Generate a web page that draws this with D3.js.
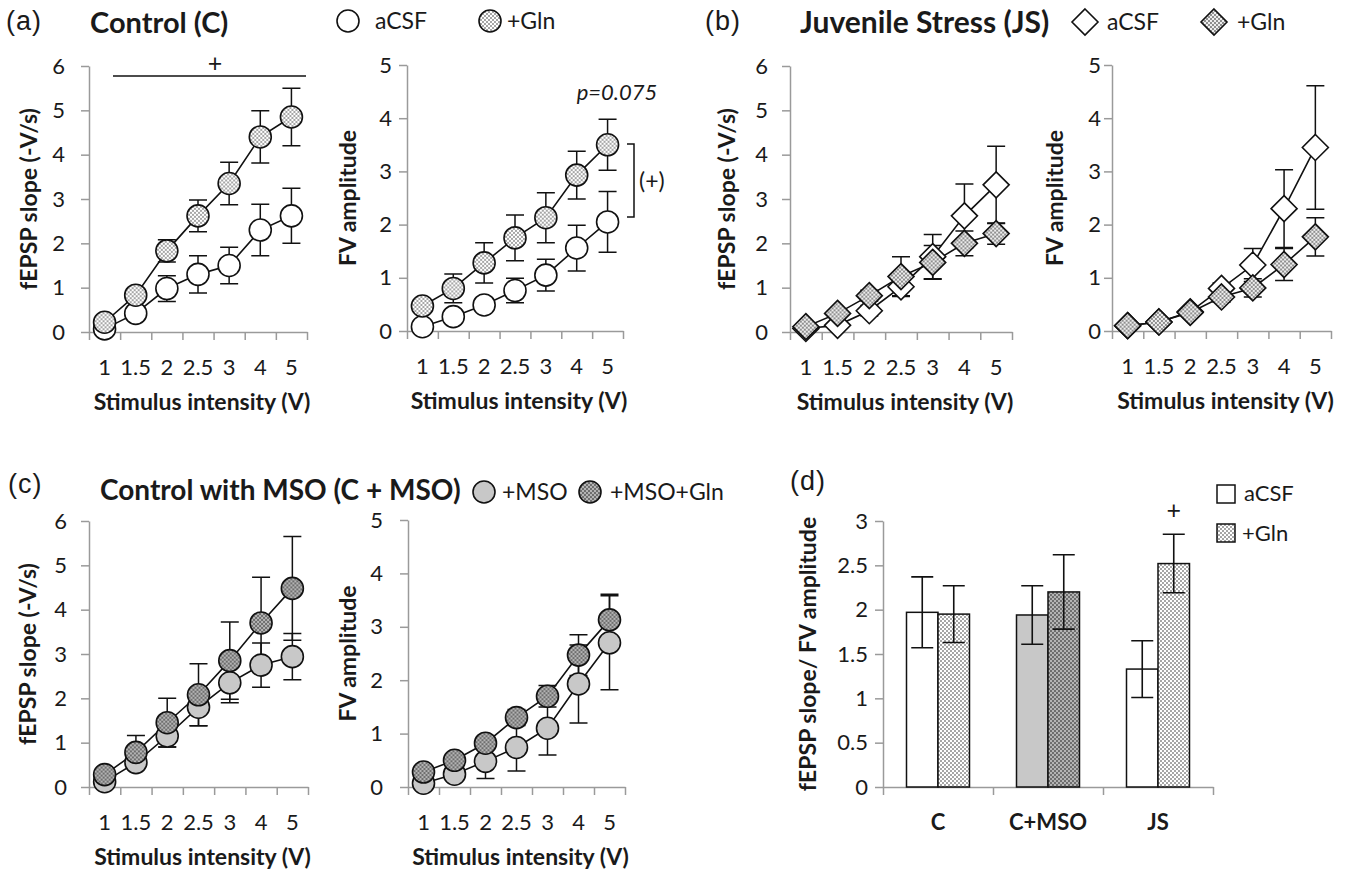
<!DOCTYPE html>
<html><head><meta charset="utf-8">
<script src="https://cdn.jsdelivr.net/npm/d3@7"></script>
<style>
body{margin:0;background:#fff}
svg text{font-family:Lato,"Open Sans",sans-serif;fill:#1a1a1a}
.axis path,.axis line{stroke:#9a9a9a;stroke-width:1.5}
.axis text{font-size:22px;font-family:Lato,sans-serif;fill:#1a1a1a}
.atitle{font-weight:bold;font-size:23px}
.ptitle{font-weight:bold}
.plabel{font-family:"Liberation Sans",Arial,sans-serif !important;font-size:27px;letter-spacing:1px}
.leg{font-size:23px}
</style></head>
<body><svg id="fig" width="1354" height="870"></svg>
<script>
// ---------- data ----------
const intensities = ["1","1.5","2","2.5","3","4","5"];
const yTicks6 = [0,1,2,3,4,5,6];
const yTicks5 = [0,1,2,3,4,5];
const yTicksRatio = [0,0.5,1,1.5,2,2.5,3];

// (a) Control
const cFepspAcsf = [0.07,0.42,0.98,1.30,1.50,2.30,2.62];
const cFepspAcsfErr = [0.05,0.12,0.29,0.42,0.41,0.58,0.62];
const cFepspGln = [0.22,0.83,1.83,2.62,3.35,4.40,4.85];
const cFepspGlnErr = [0.05,0.12,0.25,0.36,0.48,0.59,0.65];
const cFvAcsf = [0.08,0.27,0.49,0.76,1.05,1.56,2.05];
const cFvAcsfErr = [0.04,0.08,0.12,0.23,0.30,0.43,0.57];
const cFvGln = [0.47,0.80,1.28,1.75,2.13,2.93,3.50];
const cFvGlnErr = [0.10,0.27,0.38,0.43,0.47,0.45,0.48];

// (b) Juvenile stress
const jsFepspAcsf = [0.08,0.15,0.48,1.02,1.70,2.62,3.32];
const jsFepspAcsfErr = [0.03,0.08,0.12,0.20,0.50,0.72,0.87];
const jsFepspGln = [0.12,0.42,0.82,1.25,1.57,2.00,2.22];
const jsFepspGlnErr = [0.03,0.08,0.12,0.45,0.38,0.28,0.24];
const jsFvAcsf = [0.10,0.17,0.36,0.80,1.24,2.30,3.45];
const jsFvAcsfErr = [0.03,0.04,0.06,0.10,0.31,0.73,1.16];
const jsFvGln = [0.10,0.17,0.35,0.64,0.81,1.25,1.77];
const jsFvGlnErr = [0.03,0.04,0.06,0.10,0.17,0.30,0.36];

// (c) Control with MSO
const msoFepsp = [0.12,0.55,1.15,1.80,2.35,2.75,2.94];
const msoFepspErr = [0.05,0.15,0.25,0.42,0.45,0.50,0.52];
const msoGlnFepsp = [0.28,0.78,1.45,2.08,2.85,3.70,4.48];
const msoGlnFepspErr = [0.05,0.38,0.55,0.70,0.87,1.03,1.17];
const msoFv = [0.07,0.24,0.48,0.74,1.10,1.93,2.70];
const msoFvErr = [0.03,0.08,0.32,0.44,0.50,0.73,0.88];
const msoGlnFv = [0.28,0.50,0.82,1.30,1.70,2.47,3.13];
const msoGlnFvErr = [0.03,0.05,0.08,0.15,0.20,0.38,0.48];

// (d) ratio
const groups = ["C","C+MSO","JS"];
const ratioBase = [1.97,1.94,1.33];
const ratioBaseErr = [0.40,0.33,0.32];
const ratioGln = [1.95,2.20,2.52];
const ratioGlnErr = [0.32,0.42,0.33];

// ---------- drawing ----------
const svg = d3.select('#fig');
const defs = svg.append('defs');
function dotPattern(id, bg, dot){
  const p = defs.append('pattern').attr('id',id).attr('width',4).attr('height',4).attr('patternUnits','userSpaceOnUse');
  p.append('rect').attr('width',4).attr('height',4).attr('fill',bg);
  p.append('circle').attr('cx',1).attr('cy',1).attr('r',0.95).attr('fill',dot);
  p.append('circle').attr('cx',3).attr('cy',3).attr('r',0.95).attr('fill',dot);
}
dotPattern('dotsLight','#ffffff','#808080');
dotPattern('dotsMid','#eeeeee','#666666');
dotPattern('dotsDark','#b4b4b4','#505050');

const FILL = {white:'#ffffff', light:'url(#dotsLight)', mid:'url(#dotsMid)', dark:'url(#dotsDark)', gray:'#c8c8c8'};
const diamondPath = 'M0,-13L13,0L0,13L-13,0Z';

function drawMarker(sel, shape, fill){
  if(shape==='circle') sel.append('circle').attr('r',11).attr('fill',fill).attr('stroke','#111').attr('stroke-width',1.6);
  else sel.append('path').attr('d',diamondPath).attr('fill',fill).attr('stroke','#111').attr('stroke-width',1.6);
}

function linePanel(o){
  const g = svg.append('g');
  const x = d3.scaleBand().domain(intensities).range([o.x0,o.x1]);
  const xi = d3.scaleLinear().domain([0,intensities.length]).range([o.x0,o.x1]);
  const y = d3.scaleLinear().domain([0,o.ymax]).range([o.yb,o.yt]);
  const cx = k => x(k)+x.bandwidth()/2;

  g.append('g').attr('class','axis').attr('transform',`translate(0,${o.yb})`)
    .call(d3.axisBottom(xi).tickValues(d3.range(intensities.length+1)).tickSize(8).tickSizeOuter(0).tickFormat(''));
  g.append('g').attr('class','axis').attr('transform',`translate(0,${o.yb})`)
    .call(d3.axisBottom(x).tickSize(0).tickPadding(27)).call(s=>s.select('.domain').remove());
  g.append('g').attr('class','axis').attr('transform',`translate(${o.x0},0)`)
    .call(d3.axisLeft(y).tickValues(o.ticks).tickFormat(d3.format('d')).tickSize(8).tickSizeOuter(0).tickPadding(o.pad));

  g.append('text').attr('class','atitle').attr('text-anchor','middle')
    .attr('x',(o.x0+o.x1)/2+4).attr('y',o.yb+78).text('Stimulus intensity (V)');
  g.append('text').attr('class','atitle').attr('text-anchor','middle')
    .attr('transform',`translate(${o.x0-o.tOff},${(o.yb+o.yt)/2}) rotate(-90)`).attr('dy','0.35em').text(o.ylabel);

  const rows = o.series.map(s => s.vals.map((v,i)=>({k:intensities[i],v,e:s.errs[i]})));
  rows.forEach(r=>{
    g.append('g').selectAll('path').data(r).join('path')
      .attr('fill','none').attr('stroke','#111').attr('stroke-width',1.5)
      .attr('d',d=>{const c=cx(d.k),lo=y(d.v-d.e),hi=y(d.v+d.e);
        return `M${c},${lo}V${hi}M${c-9},${hi}H${c+9}M${c-9},${lo}H${c+9}`;});
  });
  rows.forEach(r=>{
    g.append('path').datum(r).attr('fill','none').attr('stroke','#111').attr('stroke-width',1.6)
      .attr('d',d3.line().x(d=>cx(d.k)).y(d=>y(d.v)));
  });
  rows.forEach((r,si)=>{
    const s=o.series[si];
    g.append('g').selectAll('g').data(r).join('g')
      .attr('transform',d=>`translate(${cx(d.k)},${y(d.v)})`)
      .each(function(){drawMarker(d3.select(this), s.shape, s.fill);});
  });
  return {g,x,y};
}

// (a)
linePanel({x0:89,x1:307,yb:332,yt:66,ymax:6,ticks:yTicks6,pad:16,tOff:60,ylabel:'fEPSP slope (-V/s)',
  series:[{vals:cFepspAcsf,errs:cFepspAcsfErr,shape:'circle',fill:FILL.white},
          {vals:cFepspGln,errs:cFepspGlnErr,shape:'circle',fill:FILL.light}]});
linePanel({x0:407,x1:623,yb:331,yt:65,ymax:5,ticks:yTicks5,pad:7,tOff:59,ylabel:'FV amplitude',
  series:[{vals:cFvAcsf,errs:cFvAcsfErr,shape:'circle',fill:FILL.white},
          {vals:cFvGln,errs:cFvGlnErr,shape:'circle',fill:FILL.light}]});
// (b)
linePanel({x0:790,x1:1012,yb:332,yt:66,ymax:6,ticks:yTicks6,pad:14,tOff:63,ylabel:'fEPSP slope (-V/s)',
  series:[{vals:jsFepspAcsf,errs:jsFepspAcsfErr,shape:'diamond',fill:FILL.white},
          {vals:jsFepspGln,errs:jsFepspGlnErr,shape:'diamond',fill:FILL.mid}]});
linePanel({x0:1112,x1:1331,yb:331,yt:65,ymax:5,ticks:yTicks5,pad:3,tOff:57,ylabel:'FV amplitude',
  series:[{vals:jsFvAcsf,errs:jsFvAcsfErr,shape:'diamond',fill:FILL.white},
          {vals:jsFvGln,errs:jsFvGlnErr,shape:'diamond',fill:FILL.mid}]});
// (c)
linePanel({x0:89,x1:308,yb:787,yt:521,ymax:6,ticks:yTicks6,pad:14,tOff:61,ylabel:'fEPSP slope (-V/s)',
  series:[{vals:msoFepsp,errs:msoFepspErr,shape:'circle',fill:FILL.gray},
          {vals:msoGlnFepsp,errs:msoGlnFepspErr,shape:'circle',fill:FILL.dark}]});
linePanel({x0:408,x1:625,yb:787,yt:520,ymax:5,ticks:yTicks5,pad:17,tOff:60,ylabel:'FV amplitude',
  series:[{vals:msoFv,errs:msoFvErr,shape:'circle',fill:FILL.gray},
          {vals:msoGlnFv,errs:msoGlnFvErr,shape:'circle',fill:FILL.dark}]});

// annotations (a)
svg.append('line').attr('x1',113).attr('x2',306).attr('y1',76).attr('y2',76).attr('stroke','#111').attr('stroke-width',1.5);
svg.append('text').attr('x',215).attr('y',72).attr('text-anchor','middle').style('font-size','25px').text('+');
svg.append('text').attr('x',617).attr('y',100).attr('text-anchor','middle').style('font-size','22px').style('font-style','italic').text('p=0.075');
svg.append('path').attr('d','M627,144H634V217H627').attr('fill','none').attr('stroke','#111').attr('stroke-width',1.5);
svg.append('text').attr('x',639).attr('y',189).style('font-size','23px').text('(+)');

// panel labels / titles / legends
function label(t,x,y){svg.append('text').attr('class','plabel').attr('x',x).attr('y',y).text(t);}
function title(t,x,y,fs){svg.append('text').attr('class','ptitle').attr('x',x).attr('y',y).style('font-size',fs+'px').text(t);}
function legItem(shape,fill,x,y,t,tx){
  const g=svg.append('g').attr('transform',`translate(${x},${y})`);
  drawMarker(g,shape,fill);
  svg.append('text').attr('class','leg').attr('x',tx).attr('y',y+8).text(t);
}
label('(a)',6,30); title('Control (C)',90,33,29);
legItem('circle',FILL.white,348,21,'aCSF',375);
legItem('circle',FILL.light,490,21,'+Gln',507);
label('(b)',705,30); title('Juvenile Stress (JS)',800,33,30);
legItem('diamond',FILL.white,1085,22,'aCSF',1107);
legItem('diamond',FILL.mid,1214,22,'+Gln',1237);
label('(c)',8,493); title('Control with MSO (C + MSO)',100,500,28);
legItem('circle',FILL.gray,484,492,'+MSO',502);
legItem('circle',FILL.dark,590,492,'+MSO+Gln',610);
label('(d)',790,490);

// (d) bar chart
(function(){
  const x0=883,x1=1213,yb=787,yt=521;
  const gx = d3.scaleBand().domain(groups).range([x0,x1]);
  const gi = d3.scaleLinear().domain([0,groups.length]).range([x0,x1]);
  const inner = d3.scaleBand().domain(['base','gln']).range([0,63]);
  const off = (gx.bandwidth()-63)/2;
  const y = d3.scaleLinear().domain([0,3]).range([yb,yt]);
  const g = svg.append('g');
  g.append('g').attr('class','axis').attr('transform',`translate(0,${yb})`)
    .call(d3.axisBottom(gi).tickValues(d3.range(groups.length+1)).tickSize(8).tickSizeOuter(0).tickFormat(''));
  const lab = g.append('g').attr('class','axis').attr('transform',`translate(0,${yb})`)
    .call(d3.axisBottom(gx).tickSize(0).tickPadding(27)).call(s=>s.select('.domain').remove());
  lab.selectAll('text').style('font-weight','bold');
  g.append('g').attr('class','axis').attr('transform',`translate(${x0},0)`)
    .call(d3.axisLeft(y).tickValues(yTicksRatio).tickFormat(d3.format('~g')).tickSize(8).tickSizeOuter(0).tickPadding(7));
  g.append('text').attr('class','atitle').attr('text-anchor','middle')
    .attr('transform',`translate(${x0-75},${(yb+yt)/2}) rotate(-90)`).attr('dy','0.35em').text('fEPSP slope/ FV amplitude');

  const baseFill = [FILL.white, FILL.gray, FILL.white];
  const glnFill = [FILL.light, FILL.dark, FILL.light];
  const bars = [];
  groups.forEach((grp,i)=>{
    bars.push({grp,k:'base',v:ratioBase[i],e:ratioBaseErr[i],fill:baseFill[i]});
    bars.push({grp,k:'gln',v:ratioGln[i],e:ratioGlnErr[i],fill:glnFill[i]});
  });
  g.append('g').selectAll('rect').data(bars).join('rect')
    .attr('x',d=>gx(d.grp)+off+inner(d.k)).attr('width',inner.bandwidth())
    .attr('y',d=>y(d.v)).attr('height',d=>yb-y(d.v))
    .attr('fill',d=>d.fill).attr('stroke','#111').attr('stroke-width',1.5);
  g.append('g').selectAll('path').data(bars).join('path')
    .attr('fill','none').attr('stroke','#111').attr('stroke-width',1.6)
    .attr('d',d=>{const c=gx(d.grp)+off+inner(d.k)+inner.bandwidth()/2,lo=y(d.v-d.e),hi=y(d.v+d.e);
      return `M${c},${lo}V${hi}M${c-11},${hi}H${c+11}M${c-11},${lo}H${c+11}`;});
  const js = bars[5];
  g.append('text').attr('text-anchor','middle')
    .attr('x',gx(js.grp)+off+inner('gln')+inner.bandwidth()/2).attr('y',y(js.v+js.e)-15)
    .style('font-size','25px').text('+');
  // legend
  g.append('rect').attr('x',1217).attr('y',485).attr('width',18).attr('height',18).attr('fill',FILL.white).attr('stroke','#111').attr('stroke-width',1.5);
  g.append('text').attr('class','leg').attr('x',1244).attr('y',501).style('font-size','22px').text('aCSF');
  g.append('rect').attr('x',1217).attr('y',524).attr('width',18).attr('height',18).attr('fill',FILL.light).attr('stroke','#111').attr('stroke-width',1.5);
  g.append('text').attr('class','leg').attr('x',1242).attr('y',541).style('font-size','22px').text('+Gln');
})();
</script></body></html>
